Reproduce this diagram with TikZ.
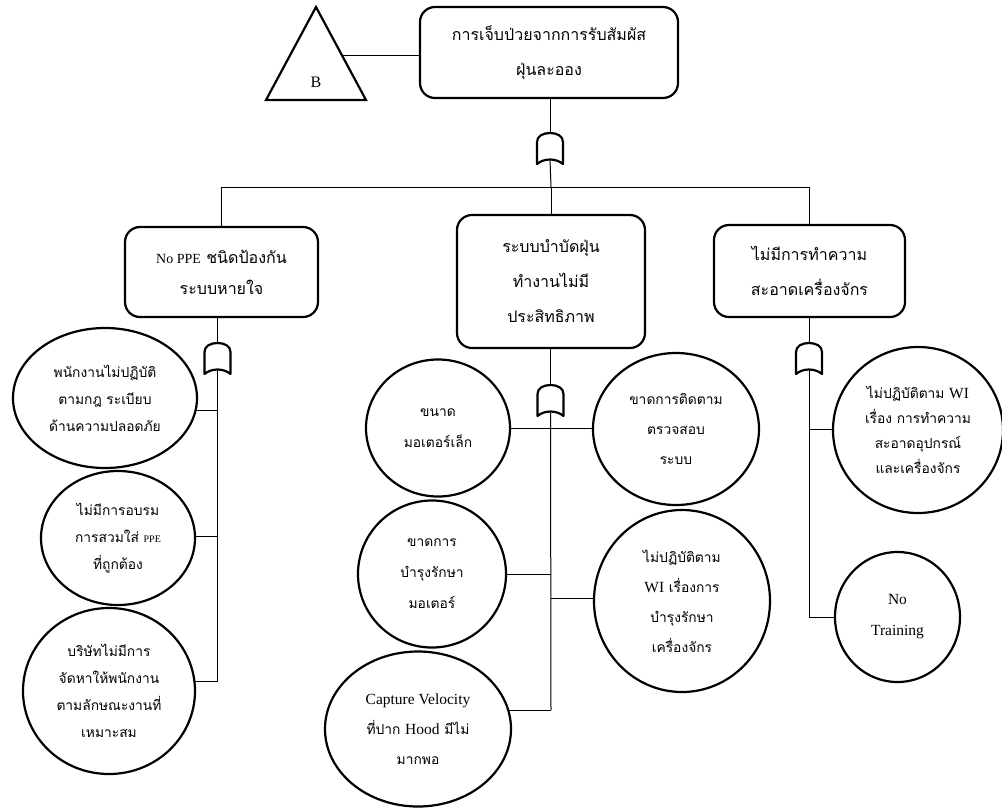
\documentclass[tikz,border=0pt]{standalone}
\usepackage{fontspec}
\setmainfont{Liberation Serif}
\newfontfamily\thai[Script=Thai]{Loma}
\usetikzlibrary{shapes.geometric,backgrounds}
% Latin words set in the serif face inside Thai lines
\newcommand{\latbox}[1]{{\rmfamily\fontsize{14}{14}\selectfont #1}}
\newcommand{\latleaf}[1]{{\rmfamily\fontsize{15.5}{15.5}\selectfont #1}}

\tikzset{
  event/.style={draw, line width=2.2pt, rounded corners=15pt, fill=white,
    align=center, inner sep=0pt, outer sep=0pt},
  basic/.style={draw, ellipse, line width=2.2pt, fill=white,
    align=center, inner sep=0pt, outer sep=0pt},
  link/.style={line width=1pt},
  boxfont/.style={font=\thai\fontsize{16}{#1}\selectfont},
  leaffont/.style={font=\thai\fontsize{13.8}{#1}\selectfont},
  pics/orgate/.style={code={
    \draw[line width=2.2pt, fill=white, line join=round]
      (-13,15) -- (-13,-7)
      .. controls (-13,-13) and (-7,-16) .. (0,-16)
      .. controls (7,-16) and (13,-13) .. (13,-7)
      -- (13,15)
      .. controls (6,9) and (-6,9) .. (-13,15) -- cycle;
    \coordinate (-in) at (0,-16);
    \coordinate (-out) at (0,10.5);
  }},
}

\begin{document}
\begin{tikzpicture}[x=1pt, y=-1pt]
\useasboundingbox (0,0) rectangle (1002,807);

% transfer symbol
\coordinate (Bl) at (266,100);
\coordinate (Bt) at (316,7);
\coordinate (Br) at (366,100);
\draw[line width=2.2pt, line join=miter] (Bl) -- (Bt) -- (Br) -- cycle;
\node[font=\rmfamily\fontsize{16}{18}\selectfont] (B) at (316,82) {B};
\coordinate (Bedge) at (342,55);

% top event
\node[event, boxfont=35, minimum width=258, minimum height=91] (top) at (549,52.5)
  {การเจ็บป่วยจากการรับสัมผัส\\ฝุ่นละออง};

% intermediate events
\node[event, boxfont=31, minimum width=193, minimum height=90] (ppe) at (221.5,272)
  {\latbox{No PPE} ชนิดป้องกัน\\ระบบหายใจ};
\node[event, boxfont=35, minimum width=188, minimum height=133] (dust) at (551,281.5)
  {ระบบบำบัดฝุ่น\\ทำงานไม่มี\\ประสิทธิภาพ};
\node[event, boxfont=35, minimum width=191, minimum height=92] (clean) at (809.5,271)
  {ไม่มีการทำความ\\สะอาดเครื่องจักร};

% gates
\pic (g1) at (550,149) {orgate};
\pic (g2) at (217.5,359) {orgate};
\pic (g3) at (550.5,401) {orgate};
\pic (g4) at (809,359) {orgate};

% basic events, left branch
\node[basic, leaffont=27, minimum width=184, minimum height=140] (e1) at (105,398)
  {พนักงานไม่ปฏิบัติ\\ตามกฎ ระเบียบ\\ด้านความปลอดภัย};
\node[basic, leaffont=27, minimum width=154, minimum height=134] (e2) at (118,538)
  {ไม่มีการอบรม\\การสวมใส่ {\rmfamily\fontsize{10}{10}\selectfont PPE}\\ที่ถูกต้อง};
\node[basic, leaffont=27, minimum width=172, minimum height=166] (e3) at (109,691)
  {บริษัทไม่มีการ\\จัดหาให้พนักงาน\\ตามลักษณะงานที่\\เหมาะสม};

% basic events, centre branch
\node[basic, leaffont=31, minimum width=144, minimum height=137] (c1) at (438,428)
  {ขนาด\\มอเตอร์เล็ก};
\node[basic, leaffont=30, minimum width=166, minimum height=152] (c2) at (676,429)
  {ขาดการติดตาม\\ตรวจสอบ\\ระบบ};
\node[basic, leaffont=31, minimum width=148, minimum height=147] (c3) at (432,574)
  {ขาดการ\\บำรุงรักษา\\มอเตอร์};
\node[basic, leaffont=30, minimum width=176, minimum height=182] (c4) at (682,601)
  {ไม่ปฏิบัติตาม\\\latleaf{WI} เรื่องการ\\บำรุงรักษา\\เครื่องจักร};
\node[basic, leaffont=30, minimum width=186, minimum height=155] (c5) at (418,729)
  {\latleaf{Capture Velocity}\\ที่ปาก \latleaf{Hood} มีไม่\\มากพอ};

% basic events, right branch
\node[basic, leaffont=25, minimum width=170, minimum height=166] (r1) at (918,430)
  {ไม่ปฏิบัติตาม \latleaf{WI}\\เรื่อง การทำความ\\สะอาดอุปกรณ์\\และเครื่องจักร};
\node[basic, leaffont=31, minimum width=125, minimum height=130] (r2) at (897.5,617)
  {\latleaf{No}\\\latleaf{Training}};

% tap points on the vertical branch lines
\coordinate (J)  at (551,187);
\coordinate (L1) at (217.5,410.7);
\coordinate (L2) at (217.5,536.7);
\coordinate (L3) at (217.5,681.7);
\coordinate (M1) at (551,428.3);
\coordinate (M2) at (551,574);
\coordinate (M3) at (551,598);
\coordinate (M4) at (551,710);
\coordinate (R1) at (809,429);
\coordinate (R2) at (809,617);

\begin{scope}[on background layer]
  % top level
  \draw[link] (Bedge) -- (Bedge -| top.west);
  \draw[link] (top.south -| g1-in) -- (g1-in);
  \draw[link] (g1-out) -- (J);
  \draw[link] (J -| ppe.north) -- (J -| clean.north);
  \draw[link] (J -| ppe.north) -- (ppe.north);
  \draw[link] (J -| dust.north) -- (dust.north);
  \draw[link] (J -| clean.north) -- (clean.north);
  % gates under the intermediate events
  \draw[link] (ppe.south -| g2-in) -- (g2-in);
  \draw[link] (dust.south -| g3-in) -- (g3-in);
  \draw[link] (clean.south -| g4-in) -- (g4-in);
  % left branch
  \draw[link] (g2-out) -- (L3);
  \draw[link] (L1) -- (L1 -| e1.center);
  \draw[link] (L2) -- (L2 -| e2.center);
  \draw[link] (L3) -- (L3 -| e3.center);
  % centre branch
  \draw[link] (g3-out) -- (M4);
  \draw[link] (M1 -| c1.center) -- (M1 -| c2.center);
  \draw[link] (M2) -- (M2 -| c3.center);
  \draw[link] (M3) -- (M3 -| c4.center);
  \draw[link] (M4) -- (M4 -| c5.center);
  % right branch
  \draw[link] (g4-out) -- (R2);
  \draw[link] (R1) -- (R1 -| r1.center);
  \draw[link] (R2) -- (R2 -| r2.center);
\end{scope}
\end{tikzpicture}
\end{document}
